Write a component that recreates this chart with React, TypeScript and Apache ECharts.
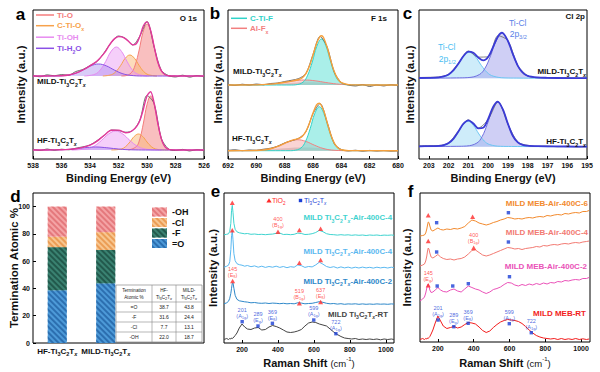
import React, { useEffect, useRef } from 'react';
import * as echarts from 'echarts';

const FF = '"Liberation Sans", Arial, Helvetica, sans-serif';

/* ---------------- (a) O 1s : heights above each spectrum's baseline ---------------- */
const aRawX = [538, 537.5, 537, 536.5, 536, 535.5, 535, 534.5, 534, 533.5, 533, 532.5, 532, 531.5, 531, 530.5, 530, 529.5, 529, 528.5, 528, 527.5, 527, 526.5, 526];
const aMildRaw = [0.5, -0.8, 1.2, 0.2, 1.5, 0.8, 4.5, 6.5, 10.5, 14.5, 23.5, 33.5, 40, 37.5, 31, 40, 54.5, 29, 5.8, 0.5, -1, 0.8, -1.2, 0.5, -0.8];
const aHfRaw = [0.8, -0.5, 1, -0.3, 0.8, 0.2, 1.8, 3.2, 5, 9.5, 14.5, 20, 19.5, 17.8, 19.5, 30, 54.5, 46.5, 11.8, 1.2, -0.5, 0.6, -1, 0.4, -0.6];
const aMildTiO = [[531.8, 0], [531.54, 0.2], [531.1, 3.3], [530.83, 10.9], [530.55, 26], [530.28, 43.7], [530, 52], [529.72, 43.7], [529.45, 26], [529.18, 10.9], [528.9, 3.3], [528.46, 0.2], [528, 0]];
const aMildCTiO = [[533.1, 0], [532.5, 1.3], [532.18, 4.4], [531.85, 10.5], [531.53, 17.7], [531.2, 21], [530.88, 17.7], [530.55, 10.5], [530.23, 4.4], [529.9, 1.3], [529.3, 0]];
const aMildTiOH = [[534.4, 0], [533.65, 1.8], [533.28, 6.1], [532.9, 14.5], [532.53, 24.4], [532.15, 29], [531.78, 24.4], [531.4, 14.5], [531.03, 6.1], [530.65, 1.8], [529.9, 0]];
const aMildTiH2O = [[538, 0], [536.5, 0], [535.6, 0.75], [535.05, 2.5], [534.5, 6], [533.95, 10.1], [533.4, 12], [532.85, 10.1], [532.3, 6], [531.75, 2.5], [531.2, 0.75], [530.3, 0], [526, 0]];
const aMildFit = [[538, 0], [536.5, 0.1], [536, 0.3], [535.5, 1], [535, 2.8], [534.5, 6], [534, 10.2], [533.5, 15], [533, 22.9], [532.75, 28.4], [532.5, 33.7], [532.25, 37.6], [532, 39.4], [531.75, 39.1], [531.5, 37.1], [531.25, 34], [531, 31.1], [530.75, 32.2], [530.5, 39.7], [530.25, 50.2], [530, 54.1], [529.75, 45.8], [529.5, 29.5], [529.25, 14.3], [529, 5.3], [528.75, 1.5], [528.5, 0.3], [528, 0], [526, 0]];
const aHfTiO = [[531.3, 0], [530.75, 3.4], [530.5, 11.3], [530.25, 27], [530, 45.4], [529.75, 54], [529.5, 45.4], [529.25, 27], [529, 11.3], [528.75, 3.4], [528.35, 0.2], [528, 0]];
const aHfCTiO = [[532.5, 0], [531.8, 1], [531.5, 3.4], [531.2, 8], [530.9, 13.5], [530.6, 16], [530.3, 13.5], [530, 8], [529.7, 3.4], [529.4, 1], [528.9, 0.1], [528.5, 0]];
const aHfTiOH = [[535.3, 0], [534.2, 1.2], [533.7, 4], [533.2, 9.5], [532.7, 16], [532.2, 19], [531.7, 16], [531.2, 9.5], [530.7, 4], [530.2, 1.2], [529.4, 0.1], [529, 0]];
const aHfTiH2O = [[538, 0], [537.1, 0], [536.1, 0.2], [535.5, 0.6], [534.85, 1.5], [534.2, 2.5], [533.6, 3], [533, 2.5], [532.35, 1.5], [531.7, 0.6], [531.1, 0.2], [530.1, 0], [526, 0]];
const aHfFit = [[538, 0], [536.5, 0.1], [536, 0.2], [535.5, 0.6], [535, 1.3], [534.5, 2.6], [534, 4.8], [533.5, 8.9], [533, 14.8], [532.5, 19.7], [532, 19.9], [531.5, 17.3], [531.25, 17.7], [531, 19.7], [530.75, 23.1], [530.5, 29.6], [530.25, 41], [530, 54.1], [529.75, 58.3], [529.5, 47], [529.25, 27.5], [529, 11.4], [528.75, 3.4], [528.5, 0.7], [528.25, 0.1], [528, 0], [526, 0]];
const aLegend = ['Ti-O', 'C-Ti-Ox', 'Ti-OH', 'Ti-H2O'];

/* ---------------- (b) F 1s ---------------- */
const bRawX = [692, 691.5, 691, 690.5, 690, 689.5, 689, 688.5, 688, 687.5, 687, 686.5, 686, 685.5, 685, 684.5, 684, 683.5, 683, 682.5, 682, 681.5, 681, 680.5, 680];
const bMildRaw = [0.5, -0.5, 0.8, 0, 1, 0.3, 1.5, 2, 3.5, 4.8, 6.5, 11.5, 30.5, 48.5, 38, 13, 2.5, 0, -1, 0.5, -1.5, 0, -1, 0.3, -0.8];
const bHfRaw = [0.3, 1, 0, 0.8, 0.5, 1.5, 2.5, 4.5, 7.8, 10, 12.5, 19, 37, 47, 28.5, 7.2, 1.2, -0.2, 0.5, -0.5, 0.3, -0.3, 0.2, -0.4, 0];
const bMildCTiF = [[692, 0], [687.5, 0], [687.22, 0.2], [686.7, 2.9], [686.38, 9.7], [686.05, 23], [685.73, 38.7], [685.4, 46], [685.08, 38.7], [684.75, 23], [684.43, 9.7], [684.1, 2.9], [683.58, 0.2], [683, 0], [680, 0]];
const bMildAlF = [[692, 0], [690.8, 0], [689.6, 0.3], [688.85, 1.05], [688.1, 2.5], [687.35, 4.2], [686.6, 5], [685.85, 4.2], [685.1, 2.5], [684.35, 1.05], [683.6, 0.3], [682.4, 0], [680, 0]];
const bMildBg = [[689.5, 0], [688.5, 1], [687.5, 2], [686.5, 2.8], [685.5, 2.5], [684.8, 1.5], [684.2, 0.4], [683.8, 0]];
const bMildFit = [[692, 0], [690, 0.15], [689, 0.85], [688.5, 1.6], [688, 2.7], [687.5, 3.9], [687, 5.5], [686.75, 7.3], [686.5, 11.3], [686.25, 18.9], [686, 30], [685.75, 41.6], [685.5, 48.7], [685.4, 49.2], [685.25, 47.2], [685, 37.7], [684.75, 24.7], [684.5, 13.5], [684.25, 6.1], [684, 2.4], [683.5, 0.4], [683, 0.1], [680, 0]];
const bHfCTiF = [[692, 0], [687.6, 0], [687.37, 0.2], [686.85, 2.75], [686.53, 9.2], [686.2, 22], [685.88, 37], [685.55, 44], [685.23, 37], [684.9, 22], [684.58, 9.2], [684.25, 2.75], [683.73, 0.2], [683.2, 0], [680, 0]];
const bHfAlF = [[692, 0], [690.8, 0], [690.46, 0.05], [689.5, 0.7], [688.9, 2.3], [688.3, 5.5], [687.7, 9.25], [687.1, 11], [686.5, 9.25], [685.9, 5.5], [685.3, 2.3], [684.7, 0.7], [683.74, 0.05], [683.3, 0], [680, 0]];
const bHfBg = [[690, 0], [689, 1.2], [688, 2.5], [687, 3.2], [686, 3], [685.2, 2], [684.6, 0.8], [684, 0]];
const bHfFit = [[692, 0], [690.5, 0.1], [690, 0.2], [689.5, 0.7], [689, 1.9], [688.5, 4.3], [688, 7.4], [687.5, 10.3], [687.25, 11.3], [687, 12.3], [686.75, 14.5], [686.5, 19.3], [686.25, 27.5], [686, 37.6], [685.75, 45.8], [685.55, 47.5], [685.25, 40.1], [685, 28.1], [684.75, 16.2], [684.5, 7.6], [684.25, 3], [684, 0.95], [683.5, 0.1], [680, 0]];
const bLegend = ['C-Ti-F', 'Al-Fx'];

/* ---------------- (c) Cl 2p ---------------- */
const cRawX = [203.5, 203, 202.5, 202, 201.5, 201, 200.5, 200, 199.5, 199, 198.5, 198, 197.5, 197, 196.5, 196, 195.5, 195];
const cMildRaw = [0.8, 1.0, 1.3, 4.2, 15.2, 27.2, 21.2, 21.6, 42.6, 37.6, 12.8, 2.6, 0.6, 0.8, 0.1, 0.4, -0.2, 0.2];
const cHfRaw = [0.9, 1.1, 1.2, 3.9, 15.9, 26.8, 18.8, 27.4, 44.8, 22.4, 4.8, 1.3, 0.3, 0.7, -0.1, 0.4, -0.2, 0.2];
const cMild32 = [[203.5, 0.1], [202.75, 0.2], [201.6, 0.4], [201.03, 0.7], [200.45, 3.7], [200.16, 10.1], [199.88, 22.5], [199.59, 37.6], [199.3, 45], [199.01, 37.6], [198.73, 22.5], [198.44, 10.1], [198.15, 3.7], [197.58, 0.7], [197, 0.4], [195.85, 0.2], [195, 0.1]];
const cMild12 = [[203.5, 0.2], [203.35, 0.25], [202.75, 0.4], [202.15, 2.2], [201.85, 5.8], [201.55, 13], [201.25, 21.7], [200.95, 26], [200.65, 21.7], [200.35, 13], [200.05, 5.8], [199.75, 2.2], [199.15, 0.4], [198.55, 0.25], [197.35, 0.1], [195, 0]];
const cMildFit = [[203.5, 0.3], [203, 0.45], [202.5, 0.9], [202.25, 1.85], [202, 3.9], [201.75, 8.15], [201.5, 14.75], [201.25, 22.25], [201, 26.75], [200.75, 25.5], [200.5, 20.8], [200.25, 17.9], [200, 21.3], [199.75, 31.4], [199.5, 42.1], [199.3, 45.6], [199, 37.3], [198.75, 24.2], [198.5, 12.5], [198.25, 5.65], [198, 2.4], [197.5, 0.85], [197, 0.5], [196, 0.2], [195, 0.1]];
const cHf32 = [[203.5, 0.1], [202.67, 0.18], [201.62, 0.4], [201.1, 0.7], [200.57, 3.7], [200.31, 10], [200.05, 22.25], [199.78, 37.2], [199.52, 44.5], [199.26, 37.2], [198.99, 22.25], [198.73, 10], [198.47, 3.7], [197.95, 0.7], [197.42, 0.4], [196.37, 0.18], [195, 0.1]];
const cHf12 = [[203.5, 0.2], [203.22, 0.23], [202.67, 0.4], [202.12, 2.1], [201.85, 5.7], [201.57, 12.75], [201.3, 21.3], [201.02, 25.5], [200.75, 21.3], [200.47, 12.75], [200.2, 5.7], [199.92, 2.1], [199.37, 0.4], [198.82, 0.23], [197.72, 0.1], [195, 0]];
const cHfFit = [[203.5, 0.4], [203, 0.55], [202.5, 0.85], [202.25, 1.55], [202, 3.6], [201.75, 8.1], [201.5, 15.5], [201.25, 23], [201, 26.4], [200.75, 23.2], [200.5, 18.4], [200.25, 18.9], [200, 27.7], [199.75, 39.8], [199.52, 45.1], [199.25, 37.1], [199, 22.8], [198.75, 10.75], [198.5, 4.4], [198.25, 1.8], [198, 1.05], [197.5, 0.55], [197, 0.35], [196, 0.2], [195, 0.1]];
const cTicks = [195, 196, 197, 198, 199, 200, 201, 202, 203];

/* ---------------- (d) termination ---------------- */
const dCats = ['HF-Ti3C2Tx', 'MILD-Ti3C2Tx'];
const dTerms = ['=O', '-F', '-Cl', '-OH'];
const dO = [38.7, 43.8];
const dF = [31.6, 24.4];
const dCl = [7.7, 13.1];
const dOH = [22.0, 18.7];
const dTicks = [0, 20, 40, 60, 80, 100];

/* ---------------- (e), (f) Raman ---------------- */
const RX = [100, 115, 125, 132, 138, 142, 146, 150, 155, 162, 172, 185, 200, 215, 230, 250, 270, 290, 310, 330, 350, 370, 390, 410, 430, 450, 470, 490, 510, 530, 550, 570, 590, 610, 630, 650, 670, 690, 710, 730, 750, 770, 790, 810, 830, 850, 870, 890, 910, 930, 950, 970, 990, 1010, 1030, 1045];
const eTop = [0.5, 1, 1.5, 4, 12, 25, 30, 23, 12, 6, 3.5, 2.5, 2, 1.5, 1.8, 1, 1.3, 0.8, 1, 0.6, 1, 1.2, 2, 2.2, 0.8, 1, 0.6, 1, 2.2, 1.8, 0.8, 1, 1.6, 2.8, 5, 3.6, 1.6, 0.8, 0.6, 0.2, 0.6, 0.2, 0.5, 0, 0.4, 0, 0.3, -0.2, 0.3, 0, 0.3, -0.2, 0.2, 0, 0.3, 0];
const eSecond = [0.5, 1.5, 2.5, 6, 18, 32, 37, 28, 14, 7, 4, 3, 2.5, 1.5, 2.2, 1, 1.8, 0.5, 1.5, 0.3, 1.2, 0.5, 1.5, 0.3, 1.2, 0, 1, 0.5, 2.8, 2, 0.3, 1.2, 0.8, 2.8, 5.5, 3.5, 1.2, 0.2, 1, -0.3, 0.8, -0.2, 0.6, -0.4, 0.5, -0.3, 0.6, -0.2, 0.4, -0.4, 0.5, -0.2, 0.4, -0.3, 0.5, 0];
const eThird = [0.5, 1.5, 3, 6, 11, 16, 21, 21.5, 16, 9, 5, 3.5, 3, 2.5, 2.2, 1.5, 1.8, 1.2, 1, 1.3, 0.8, 1.2, 1, 0.6, 1, 0.5, 0.8, 0.5, 1.5, 1.2, 0.5, 0.8, 1, 1.8, 2.6, 2, 1, 0.5, 0.8, 0.2, 0.6, 0, 0.4, 0.2, 0.5, 0, 0.4, 0, 0.3, 0, 0.4, 0.1, 0.3, 0, 0.4, 0.2];
const eRT = [3.5, 4.5, 3.5, 4.5, 4, 5, 4.5, 5, 6, 7.5, 10, 15, 19, 16, 14, 13.5, 15, 15.5, 13, 13.5, 16, 17.5, 16.5, 15, 13, 11, 10.5, 11, 12, 13.5, 17, 20, 21, 20.5, 19, 18, 17, 14, 11, 8.5, 6.5, 5, 4.5, 4, 4.5, 3.5, 4, 3.5, 4, 3.5, 4, 3.2, 4, 3.5, 4, 3.5];
const eNames = ['MILD Ti3C2Tx-Air-400C-4', 'MILD Ti3C2Tx-Air-400C-4', 'MILD Ti3C2Tx-Air-400C-2', 'MILD Ti3C2Tx-RT'];
const eTiO2 = [[146, 140.3], [400, 111.3], [519, 113], [637, 114.3], [146, 112.7], [519, 80.3], [637, 83], [148, 62], [519, 39.7], [637, 41]];
const eTiO2Notes = ['', '400 (B1g)', '', '', '', '', '', '145 (Eg)', '519 (B1g)', '637 (Eg)'];
const eMx = [[201, 21.3], [289, 17], [369, 19.7], [599, 23], [722, 9.3]];
const eMxNotes = ['201 (A1g)', '289 (Eg)', '369 (Eg)', '599 (A1g)', '722 (A1g)'];

const fOrange = [0, 0.5, 1, 3, 7, 11, 14, 13.5, 10, 6, 5, 6.5, 8, 6.5, 6, 7, 6.5, 7.5, 7, 8, 9.5, 13, 16, 15, 13, 12, 11, 12, 13.5, 14.5, 16, 17, 18.5, 18, 17, 17.5, 17, 18, 18.5, 18, 19, 19.5, 19, 20.5, 20, 21, 21.5, 21, 22.5, 22, 23, 23.5, 23, 24.5, 24.5, 25.5];
const fSalmon = [0, 1, 2, 5, 10, 15, 18, 17, 13, 9, 8, 9.5, 11.5, 9, 7.5, 6.5, 7, 6, 7, 7.5, 9, 12, 15.5, 16, 13.5, 11, 10, 11, 12.5, 14, 15.5, 17, 18.5, 18, 17, 17.5, 16.5, 17.5, 18, 18.5, 19.5, 19, 20.5, 20, 21, 21.5, 21, 22, 22.5, 22, 23, 23.5, 23, 24, 24.5, 25];
const fMagenta = [0, 2, 4, 8, 13, 16, 17, 15, 11, 8.5, 9, 11, 13.5, 11, 9.5, 9, 11, 12, 10, 9, 12, 15, 13.5, 12, 11, 9, 7.5, 9, 11.5, 12.5, 14, 16.5, 18.5, 18, 16, 15, 16.5, 15.5, 17, 16, 17.5, 16.5, 18, 17, 18.5, 18, 19.5, 19, 20.5, 20, 21, 21.5, 21, 22.5, 22.5, 23.5];
const fRT = [2.5, 3.5, 2.5, 3.5, 3, 4, 3.5, 4.5, 5.5, 8, 12, 19, 26, 21, 16, 13.5, 14.5, 15.5, 14, 15, 17.5, 19.5, 19, 18, 15, 11.5, 9.5, 11, 14.5, 17.5, 20, 21.5, 22.5, 22, 21.5, 20.5, 18.5, 15.5, 12, 9, 6.5, 5, 4, 3.5, 3, 3.5, 2.5, 3.5, 2.5, 3.2, 2.5, 3.5, 2.5, 3.2, 2.5, 3];
const fNames = ['MILD MEB-Air-400C-6', 'MILD MEB-Air-400C-4', 'MILD MEB-Air-400C-2', 'MILD MEB-RT'];
const fTiO2 = [[146, 126.7], [394, 125.3], [146, 101], [400, 94.3], [146, 56.7]];
const fTiO2Notes = ['', '', '', '400 (B1g)', '145 (Eg)'];
const fMx = [[193, 119.3], [594, 129.3], [193, 90], [594, 100], [196, 56], [283, 56], [370, 58.3], [600, 65.3], [201, 22], [289, 15.3], [369, 18.7], [599, 18.3], [722, 9.3]];
const fMxNotes = ['', '', '', '', '', '', '', '', '201 (A1g)', '289 (Eg)', '369 (Eg)', '599 (A1g)', '722 (A1g)'];
const ramanTicks = [200, 400, 600, 800, 1000];

/* ---------------- helpers ---------------- */
const toRich = (s: string) =>
  s
    .replace(/Ti3C2Tx/g, 'Ti{s|3}C{s|2}T{x|x}')
    .replace(/TiO2/g, 'TiO{s|2}')
    .replace(/H2O/g, 'H{s|2}O')
    .replace(/-Ox$/, '-O{s|x}')
    .replace(/-Fx$/, '-F{s|x}')
    .replace(/2p(\d\/\d)/, '2p{s|$1}');

const lift = (pts: number[][], off: number) => pts.map((p) => [p[0], p[1] + off]);
const zipXY = (xs: number[], ys: number[], off: number) => xs.map((x, i) => [x, ys[i] + off]);

function comp(g: number, pts: number[][], off: number, line: string, fill: string, showLine = true) {
  return {
    type: 'line', xAxisIndex: g, yAxisIndex: g, data: lift(pts, off), smooth: 0.4, symbol: 'none', silent: true, z: 2,
    lineStyle: { color: line, width: showLine ? 1 : 0 },
    areaStyle: { color: fill, origin: off, opacity: 1 },
  };
}
function curve(g: number, data: number[][], color: string, width: number, smooth: any = 0.3, z = 3) {
  return { type: 'line', xAxisIndex: g, yAxisIndex: g, data, smooth, symbol: 'none', silent: true, z, lineStyle: { color, width } };
}
function noteText(n: string) {
  const [num, mode] = n.split(' ');
  const letter = mode.charAt(1);
  const sub = mode.slice(2, -1);
  return `{n|${num}}\n{n|(${letter}}{s|${sub}}{n|)}`;
}
function markers(g: number, pts: number[][], notes: string[], symbol: string, size: any, color: string, noteColor: string) {
  return {
    type: 'scatter', xAxisIndex: g, yAxisIndex: g, symbol, symbolSize: size, z: 6, silent: true,
    itemStyle: { color },
    data: pts.map((p, i) => ({
      value: p,
      label: notes[i]
        ? {
            show: true, position: 'top', distance: 1, formatter: noteText(notes[i]), color: noteColor, fontSize: 5.5, fontFamily: FF, lineHeight: 6, align: 'center',
            rich: {
              n: { fontSize: 5.5, color: noteColor, fontFamily: FF, lineHeight: 6 },
              s: { fontSize: 4, color: noteColor, fontFamily: FF, lineHeight: 6, verticalAlign: 'bottom' },
            },
          }
        : { show: false },
    })),
  };
}
function gRich(color: string, size: number, weight: string) {
  const b = { fontSize: Math.max(4, size * 0.66), fontWeight: weight, fontFamily: FF, fill: color, verticalAlign: 'bottom', lineHeight: Math.round(size * 1.45) };
  return { s: b, x: { ...b, fontStyle: 'italic' } };
}
function txt(x: number, y: number, text: string, color: string, size: number, align = 'left', weight = 'bold') {
  return {
    type: 'text', x, y, silent: true, z: 100,
    style: {
      text: toRich(text), fill: color, fontSize: size, fontWeight: weight, fontFamily: FF,
      align, textAlign: align, verticalAlign: 'middle', textVerticalAlign: 'middle',
      lineHeight: Math.round(size * 1.45), rich: gRich(color, size, weight),
    },
  };
}
function seg(x1: number, y1: number, x2: number, y2: number, color: string, w: number) {
  return { type: 'line', silent: true, z: 100, shape: { x1, y1, x2, y2 }, style: { stroke: color, lineWidth: w } };
}

const D_RECT = { left: 33, top: 193, height: 150, max: 110 };

/* ---------------- option ---------------- */
function buildOption() {
  const gridRects = [
    { left: 33, top: 10, width: 171, height: 149 },
    { left: 228, top: 10, width: 170, height: 149 },
    { left: 419, top: 10, width: 168, height: 149 },
    { left: D_RECT.left, top: D_RECT.top, width: 171, height: D_RECT.height },
    { left: D_RECT.left, top: D_RECT.top, width: 97, height: D_RECT.height },
    { left: 224, top: 193, width: 170, height: 150 },
    { left: 420, top: 193, width: 170, height: 149 },
  ];
  const grid = gridRects.map((g, i) => ({ ...g, show: i !== 4, borderColor: '#000', borderWidth: 1, backgroundColor: 'transparent', containLabel: false }));

  const lbl = { fontSize: 7, fontWeight: 'bold', color: '#111', fontFamily: FF, margin: 3, formatter: (v: number) => String(v) };
  const nm = { fontSize: 11, fontWeight: 'bold', color: '#111', fontFamily: FF };
  const tick = { inside: true, length: 3, lineStyle: { color: '#000', width: 1 } };
  const xBE = (g: number, min: number, max: number, extra: any = {}) => ({
    type: 'value', gridIndex: g, min, max, inverse: true, axisLine: { show: false }, axisTick: tick, axisLabel: lbl,
    splitLine: { show: false }, name: 'Binding Energy (eV)', nameLocation: 'middle', nameGap: 13, nameTextStyle: nm, ...extra,
  });
  const ramanName = {
    ...nm, lineHeight: 14,
    rich: {
      p: { fontSize: 9.5, fontWeight: 'normal', fontFamily: FF, color: '#111', lineHeight: 14 },
      u: { fontSize: 6, fontWeight: 'normal', fontFamily: FF, color: '#111', lineHeight: 14, verticalAlign: 'top' },
    },
  };
  const xRaman = (g: number, max: number, gap: number) => ({
    type: 'value', gridIndex: g, min: 100, max, axisLine: { show: false },
    axisTick: { ...tick, customValues: ramanTicks }, axisLabel: { ...lbl, customValues: ramanTicks },
    splitLine: { show: false }, name: 'Raman Shift {p|(cm}{u|-1}{p|)}', nameLocation: 'middle', nameGap: gap, nameTextStyle: ramanName,
  });
  const catRich = {
    s: { fontSize: 5.5, fontWeight: 'bold', fontFamily: FF, color: '#111', lineHeight: 12, verticalAlign: 'bottom' },
    x: { fontSize: 5.5, fontWeight: 'bold', fontStyle: 'italic', fontFamily: FF, color: '#111', lineHeight: 12, verticalAlign: 'bottom' },
  };
  const xAxis = [
    xBE(0, 526, 538, { interval: 2 }),
    xBE(1, 680, 692, { interval: 2 }),
    xBE(2, 195, 203.5, { axisTick: { ...tick, customValues: cTicks }, axisLabel: { ...lbl, customValues: cTicks } }),
    { type: 'value', gridIndex: 3, min: 0, max: 1, show: false },
    {
      type: 'category', gridIndex: 4, data: dCats, axisLine: { show: false }, axisTick: { show: false },
      axisLabel: { interval: 0, hideOverlap: false, fontSize: 8, fontWeight: 'bold', fontFamily: FF, color: '#111', margin: 2, lineHeight: 12, formatter: (v: string) => toRich(v), rich: catRich },
    },
    xRaman(5, 1045, 13),
    xRaman(6, 1050, 14),
  ];
  const ynm = { ...nm, fontSize: 11.5 };
  const yHid = (g: number, max: number, gap: number) => ({
    type: 'value', gridIndex: g, min: 0, max, axisLine: { show: false }, axisTick: { show: false }, axisLabel: { show: false },
    splitLine: { show: false }, name: 'Intensity (a.u.)', nameLocation: 'middle', nameGap: gap, nameRotate: 90, nameTextStyle: ynm,
  });
  const yAxis = [
    yHid(0, 149, 6.5),
    yHid(1, 149, 4.5),
    yHid(2, 149, 3.5),
    { type: 'value', gridIndex: 3, min: 0, max: D_RECT.max, show: false },
    {
      type: 'value', gridIndex: 4, min: 0, max: D_RECT.max, position: 'left',
      axisLine: { show: false },
      axisTick: { show: true, inside: true, length: 3, lineStyle: { color: '#000' }, customValues: dTicks },
      axisLabel: { show: false },
      splitLine: { show: false },
      name: 'Termination Atomic %', nameLocation: 'middle', nameGap: 13, nameRotate: 90, nameTextStyle: { ...nm, fontSize: 11.5 },
    },
    yHid(5, 150, 5.5),
    yHid(6, 149, 7.5),
  ];

  const series: any[] = [];
  // (a)
  const aCols = [
    ['#f47c7c', 'rgba(244,128,128,0.5)'],
    ['#f7a24c', 'rgba(249,185,120,0.5)'],
    ['#e78bf0', 'rgba(235,160,245,0.5)'],
    ['#8a50e6', 'rgba(165,135,238,0.42)'],
  ];
  const aSets = [
    { off: 83, comps: [aMildTiO, aMildCTiO, aMildTiOH, aMildTiH2O], raw: aMildRaw, fit: aMildFit },
    { off: 9, comps: [aHfTiO, aHfCTiO, aHfTiOH, aHfTiH2O], raw: aHfRaw, fit: aHfFit },
  ];
  aSets.forEach((s) => {
    s.comps.forEach((c, i) => series.push(comp(0, c, s.off, aCols[i][0], aCols[i][1])));
    series.push(curve(0, zipXY(aRawX, s.raw, s.off), '#4a4a4a', 0.8, 0.3, 3));
    series.push(curve(0, lift(s.fit, s.off), '#e2389c', 1.4, 0.3, 4));
  });
  // (b)
  const bSets = [
    { off: 74, bg: bMildBg, alf: bMildAlF, ctif: bMildCTiF, raw: bMildRaw, fit: bMildFit },
    { off: 8.3, bg: bHfBg, alf: bHfAlF, ctif: bHfCTiF, raw: bHfRaw, fit: bHfFit },
  ];
  bSets.forEach((s) => {
    series.push(comp(1, s.bg, s.off, '#999', 'rgba(150,150,150,0.45)', false));
    series.push(comp(1, s.alf, s.off, '#f27f7f', 'rgba(245,160,160,0.45)'));
    series.push(comp(1, s.ctif, s.off, '#2fd3c9', 'rgba(100,225,215,0.55)'));
    series.push(curve(1, zipXY(bRawX, s.raw, s.off), '#4a4a4a', 0.8, 0.3, 3));
    series.push(curve(1, lift(s.fit, s.off), '#f5a03c', 1.4, 0.3, 4));
  });
  // (c)
  const cSets = [
    { off: 80.7, p12: cMild12, p32: cMild32, raw: cMildRaw, fit: cMildFit },
    { off: 12.3, p12: cHf12, p32: cHf32, raw: cHfRaw, fit: cHfFit },
  ];
  cSets.forEach((s) => {
    series.push(comp(2, s.p12, s.off, '#6cc6f2', 'rgba(165,220,245,0.55)'));
    series.push(comp(2, s.p32, s.off, '#7070e0', 'rgba(160,160,235,0.5)'));
    series.push(curve(2, zipXY(cRawX, s.raw, s.off), '#666', 0.8, 0.3, 3));
    series.push(curve(2, lift(s.fit, s.off), '#3b3bd6', 1.8, 0.3, 4));
  });
  // (d)
  const dSeries = [
    { name: '=O', data: dO, color: '#4d9ad8', dark: '#2c6fb0' },
    { name: '-F', data: dF, color: '#3a8271', dark: '#22594c' },
    { name: '-Cl', data: dCl, color: '#f7c690', dark: '#eb9d55' },
    { name: '-OH', data: dOH, color: '#f4a3a5', dark: '#e4787c' },
  ];
  dSeries.forEach((d) =>
    series.push({
      type: 'bar', name: d.name, stack: 'term', xAxisIndex: 4, yAxisIndex: 4, data: d.data, barWidth: 19, silent: true,
      itemStyle: {
        color: d.color,
        decal: { symbol: 'rect', symbolSize: 1, dashArrayX: [1, 0], dashArrayY: [1.4, 1.6], rotation: Math.PI / 4, color: d.dark },
      },
    })
  );
  // (e)
  const eCols = ['#3fd3cf', '#5ab8f0', '#2e88c9', '#444444'];
  const eBase = [107.7, 75.3, 38.7, 0];
  [eTop, eSecond, eThird, eRT].forEach((ys, i) => series.push(curve(5, zipXY(RX, ys, eBase[i]), eCols[i], 1, false, 3)));
  series.push(markers(5, eTiO2, eTiO2Notes, 'triangle', [5, 4.5], '#ff2a2a', '#ff2a2a'));
  series.push(markers(5, eMx, eMxNotes, 'rect', 3.4, '#1a3fd6', '#1a3fd6'));
  // (f)
  const fCols = ['#f28a2e', '#f27a72', '#ea52b8', '#f21c1c'];
  const fBase = [106, 76, 41, 0];
  [fOrange, fSalmon, fMagenta, fRT].forEach((ys, i) => series.push(curve(6, zipXY(RX, ys, fBase[i]), fCols[i], 1, false, 3)));
  series.push(markers(6, fTiO2, fTiO2Notes, 'triangle', [5, 4.5], '#ff2a2a', '#ff2a2a'));
  series.push(markers(6, fMx, fMxNotes, 'rect', 3.4, '#1a3fd6', '#1a3fd6'));

  /* ---- graphics ---- */
  const g: any[] = [];
  [['a', 20.5, 14.4], ['b', 215, 13.7], ['c', 407.5, 13.7], ['d', 15.5, 196.5], ['e', 215.5, 191.7], ['f', 410.5, 191.7]].forEach(([t, x, y]) =>
    g.push({ type: 'text', x, y, silent: true, z: 100, style: { text: t, fill: '#000', fontSize: 17, fontWeight: 'bold', fontFamily: FF, align: 'center', textAlign: 'center', verticalAlign: 'middle', textVerticalAlign: 'middle' } })
  );
  // d y tick labels (positions follow the d axis extent)
  dTicks.forEach((v) =>
    g.push(txt(D_RECT.left - 3, D_RECT.top + D_RECT.height * (1 - v / D_RECT.max), String(v), '#111', 7, 'right'))
  );
  // a legend
  const aLegY = [15, 25.7, 37.2, 48.3];
  aLegend.forEach((t, i) => {
    g.push(seg(36, aLegY[i], 54, aLegY[i], aCols[i][0], 1.5));
    g.push(txt(57, aLegY[i], t, aCols[i][0], 8));
  });
  g.push(txt(197, 18, 'O 1s', '#111', 8, 'right'));
  g.push(txt(37, 81.7, 'MILD-Ti3C2Tx', '#111', 8));
  g.push(txt(37, 140, 'HF-Ti3C2Tx', '#111', 8));
  // b legend
  const bLegCols = ['#2fd3c9', '#f27f7f'];
  const bLegY = [18.3, 28.3];
  bLegend.forEach((t, i) => {
    g.push(seg(231, bLegY[i], 247, bLegY[i], bLegCols[i], 1.5));
    g.push(txt(250, bLegY[i], t, bLegCols[i], 8));
  });
  g.push(txt(387, 18.3, 'F 1s', '#111', 8, 'right'));
  g.push(txt(233, 71, 'MILD-Ti3C2Tx', '#111', 8));
  g.push(txt(232, 138.3, 'HF-Ti3C2Tx', '#111', 8));
  // c labels
  g.push(txt(585, 16.7, 'Cl 2p', '#111', 8, 'right'));
  g.push(txt(517.7, 23.3, 'Ti-Cl', '#5b7fe8', 8.5, 'center', 'normal'));
  g.push(txt(518.3, 33.5, '2p3/2', '#5b7fe8', 8.5, 'center', 'normal'));
  g.push(txt(446.7, 46.7, 'Ti-Cl', '#4cc0f2', 8.5, 'center', 'normal'));
  g.push(txt(447.3, 58.5, '2p1/2', '#4cc0f2', 8.5, 'center', 'normal'));
  g.push(txt(586, 71.7, 'MILD-Ti3C2Tx', '#111', 8, 'right'));
  g.push(txt(586, 141.7, 'HF-Ti3C2Tx', '#111', 8, 'right'));
  // d table
  const tx = [116, 152, 176, 202];
  const ty = [285, 302, 312, 322, 332, 342];
  g.push({ type: 'rect', silent: true, z: 90, shape: { x: tx[0], y: ty[0], width: tx[3] - tx[0], height: ty[5] - ty[0] }, style: { fill: '#fff', stroke: '#777', lineWidth: 0.6 } });
  [tx[1], tx[2]].forEach((x) => g.push(seg(x, ty[0], x, ty[5], '#888', 0.6)));
  [ty[1], ty[2], ty[3], ty[4]].forEach((y) => g.push(seg(tx[0], y, tx[3], y, '#888', 0.6)));
  const colC = [(tx[0] + tx[1]) / 2, (tx[1] + tx[2]) / 2, (tx[2] + tx[3]) / 2];
  const hy = (ty[0] + ty[1]) / 2;
  g.push(txt(colC[0], hy, 'Termination\nAtomic %', '#222', 4.6, 'center', 'normal'));
  g.push(txt(colC[1], hy, 'HF-\nTi3C2Tx', '#222', 4.6, 'center', 'normal'));
  g.push(txt(colC[2], hy, 'MILD-\nTi3C2Tx', '#222', 4.6, 'center', 'normal'));
  const vals = [dO, dF, dCl, dOH];
  dTerms.forEach((t, i) => {
    const y = (ty[i + 1] + ty[i + 2]) / 2;
    g.push(txt(colC[0], y, t, '#222', 5, 'center', 'normal'));
    g.push(txt(colC[1], y, vals[i][0].toFixed(1), '#222', 5, 'center', 'normal'));
    g.push(txt(colC[2], y, vals[i][1].toFixed(1), '#222', 5, 'center', 'normal'));
  });
  // e legend + names
  g.push({ type: 'polygon', silent: true, z: 100, shape: { points: [[266.4, 202.6], [271.6, 202.6], [269, 198.2]] }, style: { fill: '#ff2a2a' } });
  g.push(txt(272, 200.5, 'TiO2', '#ff2a2a', 7, 'left', 'normal'));
  g.push({ type: 'rect', silent: true, z: 100, shape: { x: 298.8, y: 198.8, width: 3.4, height: 3.4 }, style: { fill: '#1a3fd6' } });
  g.push(txt(304, 200.5, 'Ti3C2Tx', '#1a3fd6', 7, 'left', 'normal'));
  const eLabY = [217.7, 251, 281, 314.3];
  const eLabX = [392, 392, 392, 388];
  eNames.forEach((t, i) => g.push(txt(eLabX[i], eLabY[i], t, eCols[i], 7.8, 'right')));
  const fLabY = [203.3, 232.7, 266, 313.7];
  const fLabX = [588, 588, 587, 586];
  fNames.forEach((t, i) => g.push(txt(fLabX[i], fLabY[i], t, fCols[i], 8, 'right')));

  return {
    animation: false,
    backgroundColor: '#fff',
    textStyle: { fontFamily: FF },
    grid,
    xAxis,
    yAxis,
    legend: [
      {
        show: true, data: ['-OH', '-Cl', '-F', '=O'], orient: 'vertical', left: 147, top: 202.5, itemWidth: 15, itemHeight: 9, itemGap: 1.5,
        icon: 'rect', selectedMode: false,
        textStyle: { fontSize: 9, fontWeight: 'bold', fontFamily: FF, color: '#111', lineHeight: 9 },
      },
    ],
    series,
    graphic: { elements: g },
  };
}

export default function App() {
  const ref = useRef<HTMLDivElement>(null);
  useEffect(() => {
    const chart = echarts.init(ref.current as HTMLDivElement, null, { renderer: 'svg' });
    chart.setOption(buildOption() as any);
    return () => chart.dispose();
  }, []);
  return <div ref={ref} style={{ position: 'fixed', left: 0, top: 0, width: 600, height: 372, background: '#fff' }} />;
}
